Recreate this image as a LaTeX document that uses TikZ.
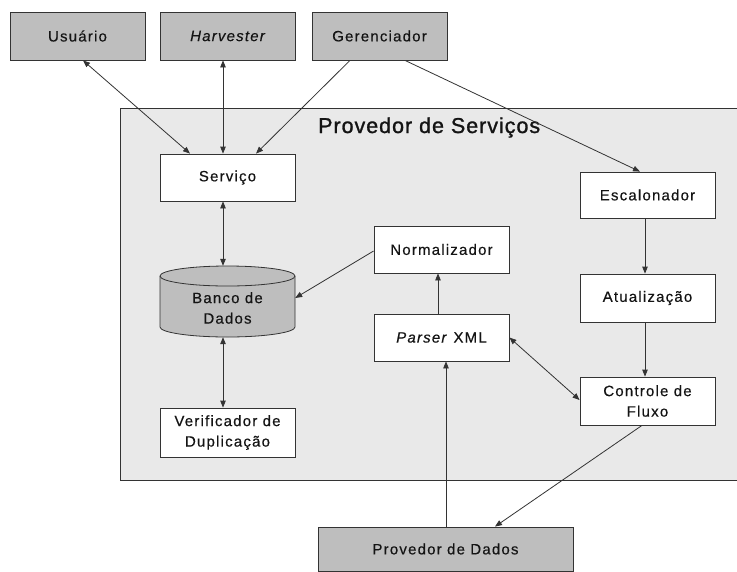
\documentclass[tikz,border=0pt]{standalone}
\usepackage{fontspec}
\setmainfont{Liberation Sans}[LetterSpace=8, FakeBold=0.4]
\newfontfamily\titlefont{Liberation Sans}[LetterSpace=4.5, FakeBold=1.2]
\usetikzlibrary{arrows.meta}
\definecolor{edge}{HTML}{333333}
\definecolor{topgray}{HTML}{BEBEBE}
\definecolor{panel}{HTML}{E9E9E9}
\definecolor{ink}{HTML}{141414}
\newcommand{\lab}{\fontsize{15}{20.5}\selectfont}
\tikzset{
  lbl/.style={font=\lab, text=ink, align=center},
  gbox/.style={draw=edge, line width=0.8pt, fill=topgray, minimum width=135pt, minimum height=48pt, inner sep=0pt, lbl},
  wbox/.style={draw=edge, line width=0.8pt, fill=white, minimum width=135pt, inner sep=0pt, lbl},
  tip/.tip={Triangle[length=7pt,width=5.5pt]},
  link/.style={draw=edge, line width=0.8pt, -tip},
  both/.style={draw=edge, line width=0.8pt, tip-tip},
}
\begin{document}
\begin{tikzpicture}[x=1pt,y=-1pt]
\useasboundingbox (0,0) rectangle (737,571);
\fill[white] (0,0) rectangle (737,571);

% service provider panel
\draw[draw=edge, line width=0.8pt, fill=panel] (120,108) rectangle (737,480);
\node[anchor=west, font=\titlefont\fontsize{21.5}{24}\selectfont, text=ink, inner sep=0pt] (title) at (318,127.5) {Provedor de Serviços};

% external actors
\node[gbox] (usr)  at (77.5,36)  {Usuário};
\node[gbox] (harv) at (227.5,36) {\itshape Harvester};
\node[gbox] (ger)  at (379.5,36) {Gerenciador};
\node[gbox, minimum width=255pt, minimum height=44pt] (pd) at (445.5,549) {Provedor de Dados};

% inner components
\node[wbox, minimum height=47pt] (serv)   at (227.5,177.5) {Serviço};
\node[wbox, minimum height=49pt] (ver)    at (227.5,432.5) {Verificador de\\Duplicação};
\node[wbox, minimum height=47pt] (norm)   at (441.5,249.5) {Normalizador};
\node[wbox, minimum height=47pt] (parser) at (441.5,337.5) {\textit{Parser} XML};
\node[wbox, minimum height=46pt] (esc)    at (647.5,195)   {Escalonador};
\node[wbox, minimum height=48pt] (atu)    at (647.5,298)   {Atualização};
\node[wbox, minimum height=48pt] (ctrl)   at (647.5,401)   {Controle de\\Fluxo};

% database cylinder
\filldraw[draw=edge, line width=0.8pt, fill=topgray]
  (160,276) -- (160,327)
  arc[start angle=180, end angle=360, x radius=67.5pt, y radius=10pt]
  -- (295,276)
  arc[start angle=0, end angle=180, x radius=67.5pt, y radius=10pt] -- cycle;
\draw[draw=edge, line width=0.8pt] (160,276)
  arc[start angle=180, end angle=360, x radius=67.5pt, y radius=10pt];
\node[minimum width=135pt, minimum height=71pt, inner sep=0pt] (db) at (227.5,301.5) {};
\node[lbl] (dbtext) at (227.5,308) {Banco de\\Dados};

% connectors
\draw[both] ([xshift=5.5pt]usr.south) -- ([xshift=-37.5pt]serv.north);
\draw[both] ([xshift=-4.5pt]harv.south) -- ([xshift=-4.5pt]serv.north);
\draw[link] ([xshift=-29.5pt]ger.south) -- ([xshift=28.5pt]serv.north);
\draw[link] ([xshift=25.5pt]ger.south) -- ([xshift=-7.5pt]esc.north);
\draw[both] ([xshift=-4.5pt]serv.south) -- ([xshift=-4.5pt]db.north);
\draw[link] ([yshift=-1.5pt]norm.west) -- ([yshift=3.5pt]db.east);
\draw[both] ([xshift=-4.5pt]db.south) -- ([xshift=-4.5pt]ver.north);
\draw[link] ([xshift=-3.5pt]parser.north) -- ([xshift=-3.5pt]norm.south);
\draw[link] ([xshift=0.5pt]pd.north) -- ([xshift=4.5pt]parser.south);
\draw[both] (parser.east) -- ([yshift=1pt]ctrl.west);
\draw[link] ([xshift=-2.5pt]esc.south) -- ([xshift=-2.5pt]atu.north);
\draw[link] ([xshift=-2.5pt]atu.south) -- ([xshift=-2.5pt]ctrl.north);
\draw[link] ([xshift=-5.5pt]ctrl.south) -- ([xshift=49.5pt]pd.north);
\end{tikzpicture}
\end{document}
